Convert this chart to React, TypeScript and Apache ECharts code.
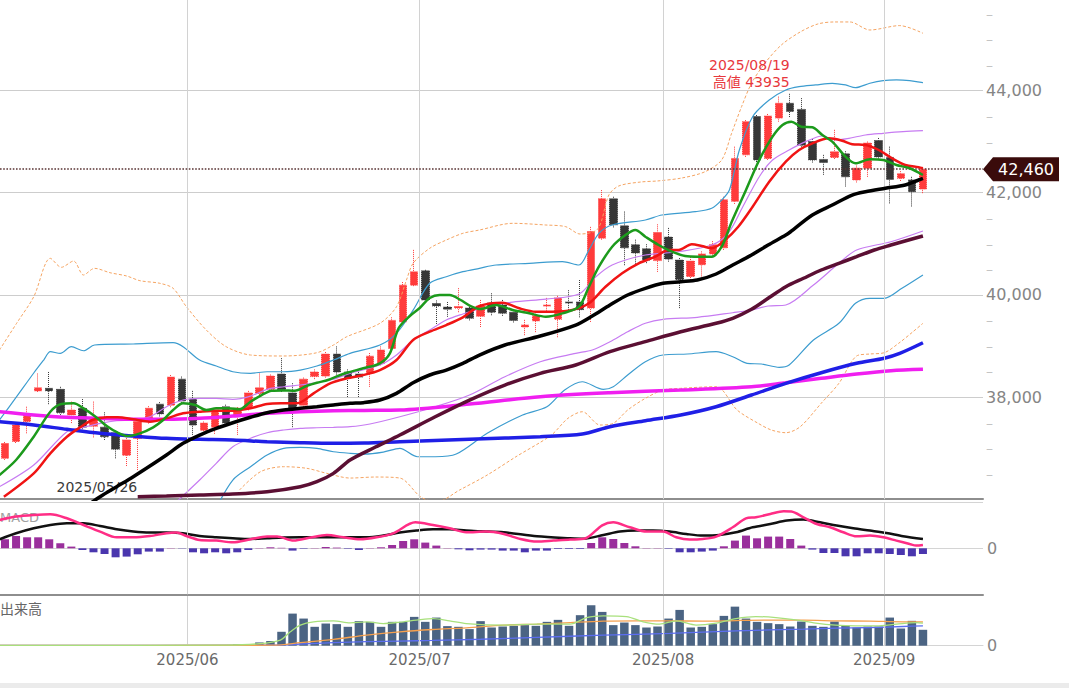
import React, { useEffect, useRef } from "react";
import * as echarts from "echarts";

// ---------- data ----------
const days = [
  "2025/05/08","2025/05/09","2025/05/12","2025/05/13","2025/05/14","2025/05/15","2025/05/16","2025/05/19","2025/05/20","2025/05/21",
  "2025/05/22","2025/05/23","2025/05/26","2025/05/27","2025/05/28","2025/05/29","2025/05/30",
  "2025/06/02","2025/06/03","2025/06/04","2025/06/05","2025/06/06","2025/06/09","2025/06/10","2025/06/11","2025/06/12","2025/06/13",
  "2025/06/16","2025/06/17","2025/06/18","2025/06/19","2025/06/20","2025/06/23","2025/06/24","2025/06/25","2025/06/26","2025/06/27","2025/06/30",
  "2025/07/01","2025/07/02","2025/07/03","2025/07/04","2025/07/07","2025/07/08","2025/07/09","2025/07/10","2025/07/11","2025/07/14",
  "2025/07/15","2025/07/16","2025/07/17","2025/07/18","2025/07/22","2025/07/23","2025/07/24","2025/07/25","2025/07/28","2025/07/29","2025/07/30","2025/07/31",
  "2025/08/01","2025/08/04","2025/08/05","2025/08/06","2025/08/07","2025/08/08","2025/08/12","2025/08/13","2025/08/14","2025/08/15",
  "2025/08/18","2025/08/19","2025/08/20","2025/08/21","2025/08/22","2025/08/25","2025/08/26","2025/08/27","2025/08/28","2025/08/29",
  "2025/09/01","2025/09/02","2025/09/03","2025/09/04",
];

const opens = [
  36800,37130,37520,38120,38170,38150,37650,37780,37430,37410,
  37300,36860,37190,37520,37860,37840,38350,37960,37350,37410,
  37810,37620,37780,38070,38150,38450,38080,37840,38400,38410,
  38840,38490,38450,38470,38660,38950,39470,40190,40470,39830,
  39760,39740,39740,39580,39840,39800,39660,39370,39490,39780,
  39520,39860,39860,39740,41110,41880,41350,40980,40900,40670,
  41130,40680,40360,40590,40800,40920,41830,42740,43490,42670,
  43460,43750,43630,43000,42650,42690,42760,42250,42480,43020,
  42690,42280,42250,42070,
];
const closes = [
  37090,37450,37650,38180,38120,37690,37745,37410,37550,37220,
  36980,37160,37520,37780,37670,38390,37920,37450,37490,37745,
  37490,37780,38080,38180,38410,38140,37780,38350,38490,38840,
  38490,38370,38390,38800,38920,39500,40190,40450,39900,39780,
  39720,39770,39540,39780,39660,39640,39500,39410,39590,39800,
  39940,39840,39710,41240,41880,41370,40920,40820,40680,41220,
  40700,40300,40660,40800,40980,41860,42670,43390,42640,43500,
  43750,43590,42930,42640,42590,42800,42310,42480,42970,42700,
  42260,42370,42020,42460,
];
const lows = [
  36770,37100,37290,38100,37860,37650,37490,37370,37210,37160,
  36800,36650,36570,37480,37620,37800,37880,37260,37290,37280,
  37420,37260,37740,38040,38120,38100,37410,37800,38350,38380,
  38440,38000,38000,38200,38620,38900,39430,40170,39860,39430,
  39570,39660,39500,39370,39600,39590,39460,39210,39270,39650,
  39170,39700,39560,39470,41080,41320,40580,40570,40620,40450,
  40650,39740,40290,40360,40750,40880,41780,42700,42600,42640,
  43390,43480,42900,42590,42350,42660,42120,42200,42310,42650,
  41790,42230,41730,41990,
];
const highs = [
  37120,37480,37810,38460,38490,38200,37910,37960,37910,37700,
  37340,37200,37550,37820,37900,38430,38400,38120,37520,37780,
  37850,37800,38120,38460,38440,38760,38270,38380,38540,38880,
  38990,38540,38530,38860,38990,39560,40250,40880,40490,39890,
  39860,40130,39800,39900,40030,39900,39700,39510,39630,39940,
  39980,40090,40290,41330,42050,41920,41630,41080,40990,41380,
  41310,40720,40740,40850,41050,41920,42900,43420,43520,43540,
  43880,43935,43850,43050,42740,43230,42810,42530,43000,43070,
  42900,42420,42310,42490,
];

// moving averages / bands: [day position, value]
const ma5Line = [
  [-0.5,36473],[1,36767],[2.6,37223],[4.1,37712],[5.1,37863],[6.2,37876],[7.1,37779],[8.1,37628],[9.2,37432],[10.2,37301],
  [11.1,37236],[12.2,37289],[13.4,37407],[14.3,37550],[15.2,37746],[16.1,37877],[17.2,37844],[18.2,37746],[19.1,37779],[20.2,37779],
  [21.2,37759],[22.2,37908],[23.2,38039],[24.1,38123],[25.1,38130],[26.2,38123],[27.3,38220],[28.2,38280],[29.2,38333],[30.1,38411],
  [31,38480],[32.4,38562],[33.9,38660],[34.8,38855],[35.6,39351],[36.6,39586],[37.5,39742],[38.4,39938],[39.3,39997],[40.2,39997],
  [41.2,39899],[42.1,39781],[43,39723],[44.4,39801],[45.9,39703],[47.4,39638],[48.9,39572],[50.4,39638],[51.9,39768],[52.8,40159],
  [53.7,40551],[54.9,40942],[56.1,41171],[57,41269],[57.9,41138],[59.1,40976],[60.3,40845],[61.5,40760],[62.7,40747],[63.9,40747],
  [64.8,40942],[65.7,41426],[67,42052],[68.2,42639],[69.4,43096],[70.3,43325],[71.1,43389],[72,43292],[73,43280],[73.9,43129],
  [74.8,42998],[76,42704],[76.9,42575],[78.2,42653],[79.4,42639],[80.6,42542],[81.8,42477],[83,42346],
];
const ma10Line = [
  [-0.1,36048],[2.6,36506],[4.1,36898],[5.6,37223],[6.8,37407],[7.9,37550],[9.2,37603],[10.2,37603],[11.6,37563],[13.1,37517],
  [14.6,37583],[16.1,37681],[17.6,37712],[19.1,37732],[20.6,37732],[22.2,37779],[23.7,37863],[25,37876],[26.4,37876],[27.9,38072],
  [29.4,38268],[30.9,38366],[32.4,38431],[33.9,38528],[35.4,38724],[36.9,39116],[38.4,39278],[39.9,39409],[41.4,39560],[42.9,39781],
  [45,39846],[46.5,39736],[48,39670],[49.5,39670],[51.3,39703],[52.8,39834],[54.3,40159],[55.8,40422],[57.3,40617],[58.8,40747],
  [60,40878],[60.9,40878],[62.1,40989],[63,40956],[63.9,40911],[65.1,41073],[66.3,41334],[67.6,41725],[69.1,42215],[70.6,42606],
  [71.8,42835],[73,42966],[74.5,43064],[75.7,43017],[76.6,42947],[77.8,42934],[79,42835],[80.2,42673],[81.4,42542],[82.6,42497],[83,42477],
];
const ma25Line = [
  [7.5,35886],[8.6,36048],[10.1,36244],[11.6,36440],[13.1,36649],[14.6,36865],[16.1,37093],[17.6,37256],[19.1,37387],[20.6,37497],
  [22.2,37603],[23.7,37693],[25.2,37745],[26.7,37779],[28.2,37810],[29.7,37844],[31.2,37876],[32.4,37890],[33.9,37941],[35.4,38072],
  [36.9,38280],[38.4,38431],[39.9,38528],[41.4,38659],[42.9,38822],[45.2,39018],[48.4,39194],[51.6,39409],[53.1,39586],[54.7,39801],
  [56.3,39997],[57.9,40128],[59.5,40226],[61.1,40257],[62.6,40290],[64.3,40408],[65.8,40584],[67.5,40780],[69,40976],[70.6,41171],
  [71,41230],[73,41563],[74.8,41758],[76.6,41954],[77.8,42019],[79.6,42085],[81.4,42150],[82.6,42248],[83,42281],
];
const ma75Line = [
  [12,36048],[14.6,36062],[17.6,36081],[20.6,36101],[23.7,36146],[26.7,36244],[28.2,36342],[29.7,36506],[31.2,36767],[33.5,37021],
  [35.7,37256],[38.9,37614],[42,37941],[45.2,38235],[48.4,38464],[51.6,38626],[54.7,38887],[57.9,39083],[61.1,39278],[64.3,39443],
  [65.8,39541],[67.5,39717],[69,39932],[70.6,40159],[72.2,40324],[73.8,40486],[75.4,40617],[77,40747],[78.6,40878],[80.1,40975],
  [81.7,41073],[83,41152],
];
const longMaBlue = [
  [-0.5,37516],[2.6,37452],[5.6,37368],[8.6,37289],[11.6,37236],[14.6,37191],[17.6,37172],[20.6,37158],[23.7,37125],[26.7,37105],
  [29.7,37093],[32.5,37100],[35.7,37125],[42,37172],[48.4,37223],[52.2,37275],[54.7,37419],[57.9,37536],[61.1,37648],[64.3,37810],
  [67.5,38039],[70.6,38268],[73.8,38476],[77,38660],[79.5,38760],[80.9,38855],[83,39063],
];
const longMaMagenta = [
  [-0.5,37712],[2.6,37647],[5.6,37602],[8.6,37583],[11.6,37563],[14.6,37563],[17.6,37583],[20.6,37628],[23.7,37681],[26.7,37712],
  [29.7,37731],[32.5,37738],[35.7,37745],[42,37863],[48.4,38006],[54.7,38084],[61.1,38137],[67.5,38202],[70.6,38280],[73.8,38366],
  [77,38450],[80.1,38515],[83,38542],
];
const bbUpper1 = [
  [-0.5,36244],[2.6,36669],[5.6,37321],[7.1,37407],[8.6,37485],[10.1,37536],[11.6,37550],[13.1,37614],[14.6,37810],[16.1,37941],
  [17.6,37974],[19.1,37974],[20.6,37955],[22.2,38019],[23.7,38151],[25.2,38201],[26.7,38235],[28.2,38280],[29.7,38347],[31.2,38464],
  [33.9,38626],[35.4,38822],[36.9,39116],[38.4,39311],[39.9,39507],[41.4,39625],[42.9,39723],[45.9,39859],[48.9,39918],[51.9,40016],
  [53.4,40349],[54.9,40584],[57.9,40780],[60.9,40844],[63.9,40975],[65.4,41210],[66.7,41719],[68.2,42312],[69.4,42639],[70.9,42835],
  [72.4,42998],[73.9,43109],[75.1,43031],[76.3,43064],[77.8,43129],[79.4,43162],[81.2,43193],[83,43213],
];
const bbLower1 = [
  [15.2,35886],[16,36048],[17.6,36375],[19.1,36702],[20.6,37027],[22.2,37192],[23.7,37301],[25.2,37354],[26.7,37387],[28.2,37399],
  [29.7,37407],[31.2,37419],[33,37472],[35.7,37614],[38.9,37810],[42,38039],[45.2,38398],[48.4,38691],[51.6,38855],[53.1,38920],
  [54.7,39083],[56.3,39278],[57.9,39443],[59.5,39521],[62.6,39560],[65.8,39650],[67.5,39703],[69,39781],[70.6,39801],[73.1,40192],
  [75.4,40617],[77,40878],[80.1,41040],[83,41250],
];
const bbUpper2 = [
  [-0.5,37550],[1.05,38006],[2.6,38470],[3.5,38724],[4.1,38887],[5,38855],[6,38985],[7.1,38906],[8.1,39018],[11.6,39038],
  [15.2,39063],[16.1,38985],[17.6,38724],[19.1,38607],[20.6,38495],[22.2,38464],[23.7,38495],[25.2,38495],[26.7,38528],[28.2,38607],
  [29.7,38724],[31.2,38855],[33.9,39018],[35.4,39247],[36.9,39700],[38.4,40226],[39.9,40355],[41.4,40453],[42.9,40519],[44.4,40584],
  [47.4,40617],[50.4,40649],[51.9,40584],[52.8,40878],[53.7,41204],[54.9,41367],[57.9,41465],[59.4,41563],[62.4,41627],[63.9,41694],
  [64.8,41856],[65.5,42052],[66.4,42835],[67.6,43487],[69.1,43814],[70.6,44010],[71.8,44074],[73.3,44108],[74.8,44141],[76,44108],
  [76.9,44055],[78.2,44141],[79.4,44192],[80.6,44206],[81.8,44192],[83,44153],
];
const bbLower2 = [
  [19.1,35827],[20.6,36375],[22.2,36635],[23.7,36864],[25.2,36996],[26.7,37015],[28.2,36996],[29.7,36929],[31.2,36898],[32.5,36884],
  [34.2,36923],[35.7,36996],[37.3,36831],[38.9,36831],[40.8,36884],[43.6,37289],[46.8,37648],[49,37810],[50.6,38137],[52.2,38299],
  [54.1,38151],[55,38202],[56.3,38431],[57.9,38691],[59.5,38822],[61.7,38842],[64.3,38887],[65.8,38789],[67.1,38659],[68.4,38646],
  [70,38581],[70.9,38626],[73.1,39116],[75.4,39443],[76.9,39834],[78.2,39932],[79.5,39932],[81.1,40128],[83,40388],
];
const bbUpper3 = [
  [-0.5,38920],[1.05,39443],[2.6,39963],[4.1,40715],[5.1,40539],[6.2,40662],[7.1,40388],[8.1,40519],[9.5,40433],[11,40369],
  [12.2,40277],[14,40226],[15.2,40128],[16.4,39768],[18.2,39312],[20,38985],[22.2,38822],[25.2,38803],[28.2,38867],[29.7,39018],
  [30.9,39180],[33.9,39443],[35.4,39768],[36.3,40290],[36.9,40617],[38.4,40911],[39.9,41073],[41.4,41204],[42.9,41269],[45.9,41400],
  [48.9,41367],[50.7,41334],[52,41191],[53.6,41290],[54.6,41954],[55.5,42131],[57.5,42209],[59,42229],[61.2,42287],[63.3,42410],
  [64.8,42639],[65.7,43162],[66.6,43683],[67.5,44141],[68.7,44532],[70.2,44891],[71.9,45145],[73.5,45302],[75,45341],[76.4,45341],
  [78.2,45184],[80.9,45270],[83,45120],
];
const bbLower3 = [
  [21.2,36179],[23.1,36538],[25.2,36636],[27.3,36604],[29.1,36506],[31.2,36414],[33.5,36434],[35.7,36414],[37.6,36042],[39,35944],
  [41.1,36179],[43.6,36473],[46.2,36831],[49.4,37256],[50.9,37583],[52.2,37712],[53.8,37452],[55,37485],[56.3,37745],[57.9,37974],
  [59.5,38137],[61.1,38170],[64.3,38202],[66.2,37745],[68.1,37485],[69.3,37354],[70.6,37301],[71.9,37418],[73.8,37877],[75.4,38268],
  [77,38803],[78.2,38842],[79.5,38867],[80.8,39051],[82.1,39278],[83,39443],
];

// MACD pane
const macdLine = [
  [-0.5,28.3],[1,31.7],[2.6,33.3],[4.1,34],[5.6,30],[7.1,23.3],[8.6,16.7],[10.1,11],[11.6,11],[13.1,12.3],
  [14.6,15],[15.5,15.7],[16.4,12.3],[17.6,8.3],[19.1,7.7],[20.6,6],[22.2,9],[23.7,11.7],[24.6,11.7],[26.1,7.7],
  [27.6,10.7],[29.1,13.3],[30.6,11],[32.1,9],[33.6,11],[35.1,15],[37.1,26],[38.7,23.3],[40.2,20],[41.7,16],
  [43.5,16.7],[45.1,14.3],[46.6,9.3],[48.1,6.7],[49.6,7.7],[51.1,8.7],[52.5,10],[54,23],[55,26],[56.5,21],
  [58,16.7],[59.5,16.7],[60.7,11],[61.9,8.7],[63.1,9.3],[64.3,11.7],[65.8,21],[67,30],[67.9,31],[69.2,34.3],
  [70.4,37],[71.1,36.7],[72.2,31],[73.4,24.3],[74.6,21],[75.8,16],[77,12],[78.2,12.7],[79.4,11],[80.6,7.7],
  [81.8,4.3],[82.4,2.7],[83,3.3],
];
const signalLine = [
  [-0.5,9],[1,15],[2.6,20],[4.1,23.3],[5.6,25],[7.1,25],[8.6,22.3],[10.1,19],[11.6,16.7],[13.1,15.7],
  [14.6,15.7],[16.1,15],[17.6,12.3],[19.1,11],[20.6,10],[22.2,9.3],[23.7,10],[25.2,10.7],[26.7,11],[28.2,11],
  [29.7,11],[31.2,11],[32.7,11],[34.2,12.7],[35.7,15.7],[37.2,17.7],[38.7,19],[40.2,19],[41.7,17.7],[43,17],
  [45.1,16],[48.1,12],[51.1,10],[52.3,9.5],[54.1,13.3],[55.6,16.7],[57.1,17.7],[58.6,17.7],[60.1,16.7],[61.6,14.3],
  [63.1,12.7],[64.6,13.3],[66.1,16],[67.6,21],[69.2,24.3],[70.7,27.7],[72.2,28.7],[73.7,26],[75.2,22.7],[76.7,20],
  [78.2,17.7],[79.7,15.3],[81.2,12],[83,9.3],
];
const macdHist = [
  9,12.3,11,11,9,5,1.7,-1.7,-4,-5.7,
  -9,-8.3,-6,-3.3,-3.3,0.3,-0.3,-4,-5,-4,
  -5,-4,-1.7,0.3,1,0.5,-2.3,-0.5,0.3,1.3,
  0.7,-0.5,-1.7,0.3,1,3.3,7.3,9,5.7,2.7,
  0.3,-1,-2,-1.3,-1.3,-2.3,-2.3,-4,-2.3,-2.3,
  -0.7,-0.7,-0.7,5.3,11,9.3,5.3,2,0.3,0.3,
  -0.5,-4,-4,-3.3,-2.3,2,7.7,12.7,10,11.7,
  11.7,9.3,2.7,-1.3,-4.7,-4.7,-8,-8,-5,-5,
  -5.7,-6.7,-8,-5.7,
];

// volume pane
const volumes = [
  0.3,0.3,0.3,0.3,0.3,0.3,0.3,0.3,0.3,0.3,
  0.3,0.3,0.3,0.3,0.3,0.3,0.3,0.3,0.3,0.5,
  0.6,1.3,1.3,3.3,4.7,14,32.3,27.3,19,22.3,
  21.7,19,24.7,24,19,24,24,29,24,28.3,
  19.7,19,16.7,24.7,18.3,19.3,20,20.7,20,24,
  26,20,30.7,40.7,34,20.7,23.3,20.7,18.3,19.3,
  27.3,36,18.3,19,21.7,30,39.3,27.3,24,22.7,
  21.7,19.3,24.3,20,19,24.3,20,18.3,19.3,19.3,
  28.3,17.3,25,16,
];
const volMaShort = [
  [-0.5,0.3],[20,0.6],[23,2],[24.9,5.7],[25.8,14],[26.7,20.7],[27.9,24],[29.7,25],[31.2,23],[32.7,24],
  [34.2,22.3],[35.7,23.7],[37.2,25.7],[38.7,27.3],[40.2,25],[41.7,22.3],[45.1,20.7],[48.1,21.7],[51.1,21.7],[52.6,28.3],
  [54.1,30],[56.2,29.3],[57.7,24],[59.2,21.7],[60.7,25],[62.5,20.7],[64.3,22.7],[66.1,27.3],[67.9,29.3],[69.7,28.3],
  [71.5,26],[73.3,22.7],[75.1,20.7],[76.9,20],[78.8,20],[80.6,21.7],[82.4,23.3],[83,22.7],
];
const volMaMid = [
  [-0.5,0.3],[24.3,0.5],[26.7,3],[29.7,6.3],[32.7,10.7],[35.7,14],[38.7,16.3],[41.7,18],[45.1,20.7],[48.1,21.7],
  [51.1,23.3],[54.1,24.7],[57.1,25],[60.1,25],[63.1,24.7],[66.1,25.3],[69.2,25.7],[72.2,25.7],[75.2,25],[78.2,24.7],
  [81.2,24],[83,24],
];
const volMaLong = [
  [-0.5,0.3],[24.3,0.5],[26.7,1.7],[29.7,3],[32.7,4],[35.7,4.7],[38.7,5.3],[43,6.5],[48.1,8.3],[54.1,10.7],
  [60.1,12.3],[66.1,15],[72.2,16.7],[75.2,17.7],[78.2,18.3],[81.2,19.3],[83,20],
];

const priceLabelStep = 2000;
const priceMinorStep = 500;

// ---------- component ----------
const FONT = '"DejaVu Sans", "Noto Sans CJK JP", sans-serif';

export default function App() {
  const ref = useRef<HTMLDivElement>(null);

  useEffect(() => {
    document.body.style.margin = "0";
    const el = ref.current as HTMLDivElement;
    const chart = echarts.init(el, null, { renderer: "svg" });

    const X_MIN = -0.452;
    const X_MAX = 88.43;
    const Y_MIN = 36000;
    const Y_MAX = 46000;
    const GRID_RIGHT = 86;

    const candleData = days.map((_, i) => [i, opens[i], closes[i], lows[i], highs[i]]);
    const lastIdx = days.length - 1;
    const lastClose = closes[lastIdx];
    let hiIdx = 0;
    let loIdx = 0;
    highs.forEach((h, i) => { if (h > highs[hiIdx]) hiIdx = i; });
    lows.forEach((l, i) => { if (l < lows[loIdx]) loIdx = i; });

    const monthMarks: { pos: number; label: string }[] = [];
    for (let i = 1; i < days.length; i++) {
      if (days[i].slice(0, 7) !== days[i - 1].slice(0, 7)) {
        monthMarks.push({ pos: i - 0.5, label: days[i].slice(0, 7) });
      }
    }
    const monthLineData = monthMarks.map((m) => ({
      xAxis: m.pos,
      lineStyle: { color: "#d2d2d2", type: "solid", width: 1 },
    }));

    const line = (data: number[][], color: string, width: number, z: number, dashed = false, xi = 0, yi = 0) => ({
      type: "line",
      xAxisIndex: xi,
      yAxisIndex: yi,
      data,
      showSymbol: false,
      symbol: "none",
      smooth: 0.3,
      silent: true,
      z,
      lineStyle: { color, width, type: dashed ? [3, 2] : "solid" },
    });

    const hiddenX = (gridIndex: number, lineColor: string, lineWidth: number) => ({
      type: "value",
      gridIndex,
      min: X_MIN,
      max: X_MAX,
      axisLine: { show: true, onZero: false, lineStyle: { color: lineColor, width: lineWidth } },
      axisTick: { show: false },
      axisLabel: { show: false },
      splitLine: { show: false },
    });

    const gridBase = { left: 0, right: GRID_RIGHT, containLabel: false, outerBoundsMode: "none" };

    const option: any = {
      animation: false,
      backgroundColor: "#ffffff",
      textStyle: { fontFamily: FONT },
      grid: [
        { ...gridBase, top: -11.7, height: 510.9 },
        { ...gridBase, top: 502.3, height: 92 },
        { ...gridBase, top: 596, height: 49.7 },
      ],
      xAxis: [
        hiddenX(0, "#8e8e8e", 2),
        hiddenX(1, "#8e8e8e", 2),
        hiddenX(2, "#d4d4d4", 1),
      ],
      yAxis: [
        {
          type: "value", gridIndex: 0, position: "right", min: Y_MIN, max: Y_MAX, interval: priceLabelStep,
          axisLine: { show: false }, axisTick: { show: false },
          splitLine: { show: true, lineStyle: { color: "#cdcdcd", width: 1 } },
          axisLabel: {
            margin: 3, color: "#858585", fontSize: 16, fontFamily: FONT,
            formatter: (v: number) => (v > Y_MIN && v < Y_MAX ? v.toLocaleString("en-US") : ""),
          },
        },
        {
          type: "value", gridIndex: 0, position: "right", min: Y_MIN, max: Y_MAX, interval: priceMinorStep,
          axisLine: { show: false }, axisTick: { show: false }, splitLine: { show: false },
          axisLabel: {
            margin: 3, color: "#c4c4c4", fontSize: 14, fontFamily: FONT,
            formatter: (v: number) => (v % priceLabelStep === 0 || v >= Y_MAX ? "" : "–"),
          },
        },
        {
          type: "value", gridIndex: 1, position: "right", min: -46, max: 46, interval: 46,
          axisLine: { show: false }, axisTick: { show: false },
          splitLine: { show: true, lineStyle: { color: "#d4d4d4", width: 1 } },
          axisLabel: { margin: 4, color: "#858585", fontSize: 16, fontFamily: FONT, formatter: (v: number) => (v === 0 ? "0" : "") },
        },
        {
          type: "value", gridIndex: 2, position: "right", min: 0, max: 50, interval: 50,
          axisLine: { show: false }, axisTick: { show: false }, splitLine: { show: false },
          axisLabel: { margin: 4, color: "#858585", fontSize: 16, fontFamily: FONT, formatter: (v: number) => (v === 0 ? "0" : "") },
        },
      ],
      series: [
        {
          type: "candlestick",
          xAxisIndex: 0,
          yAxisIndex: 0,
          data: candleData,
          barWidth: 8,
          z: 2,
          silent: true,
          itemStyle: {
            color: "#ff3b3b",
            color0: "#363636",
            borderColor: "#ff3b3b",
            borderColor0: "#363636",
            borderWidth: 1,
            borderType: "dotted",
          },
          markLine: {
            silent: true,
            symbol: ["none", "none"],
            label: { show: false },
            animation: false,
            data: [
              ...monthLineData,
              { yAxis: lastClose, lineStyle: { color: "#5a3434", type: "dotted", width: 1.6 } },
            ],
          },
          markPoint: {
            silent: true,
            animation: false,
            data: [
              {
                coord: [hiIdx, highs[hiIdx]],
                symbol: "rect",
                symbolSize: 1,
                itemStyle: { color: "rgba(0,0,0,0)" },
                label: {
                  show: true,
                  formatter: `${days[hiIdx]}\n高値 ${highs[hiIdx]}`,
                  position: [0, -3],
                  align: "right",
                  verticalAlign: "bottom",
                  color: "#e8383d",
                  fontSize: 14,
                  lineHeight: 17,
                  fontFamily: FONT,
                },
              },
              {
                coord: [loIdx, lows[loIdx]],
                symbol: "rect",
                symbolSize: 1,
                itemStyle: { color: "rgba(0,0,0,0)" },
                label: {
                  show: true,
                  formatter: `${days[loIdx]}`,
                  position: [0, 10],
                  align: "right",
                  verticalAlign: "top",
                  color: "#3a3a3a",
                  fontSize: 14,
                  fontFamily: FONT,
                },
              },
            ],
          },
        },
        line(bbUpper3, "#f5a462", 1, 3, true),
        line(bbLower3, "#f5a462", 1, 3, true),
        line(bbUpper2, "#3c9ccf", 1.2, 3),
        line(bbLower2, "#3c9ccf", 1.2, 3),
        line(bbUpper1, "#c77cf2", 1.2, 3),
        line(bbLower1, "#c77cf2", 1.2, 3),
        line(longMaMagenta, "#f01ff0", 3.5, 4),
        line(longMaBlue, "#1f1fe6", 3.5, 4),
        line(ma75Line, "#5b0f33", 3.5, 5),
        line(ma25Line, "#000000", 3.5, 6),
        line(ma10Line, "#f01414", 2.5, 7),
        line(ma5Line, "#1c9a1c", 2.5, 8),

        {
          type: "bar",
          xAxisIndex: 1,
          yAxisIndex: 2,
          data: macdHist.map((v, i) => [i, v]),
          barWidth: 8,
          silent: true,
          z: 2,
          itemStyle: { color: (p: any) => (p.value[1] >= 0 ? "#9a2f9c" : "#4a36ae") },
          markLine: {
            silent: true,
            symbol: ["none", "none"],
            label: { show: false },
            animation: false,
            data: monthLineData,
          },
        },
        line(signalLine, "#111111", 2.5, 4, false, 1, 2),
        line(macdLine, "#ff2d85", 2.5, 5, false, 1, 2),

        {
          type: "bar",
          xAxisIndex: 2,
          yAxisIndex: 3,
          data: volumes.map((v, i) => [i, v]),
          barWidth: 8.5,
          silent: true,
          z: 2,
          itemStyle: { color: "#4b6483" },
          markLine: {
            silent: true,
            symbol: ["none", "none"],
            label: { show: false },
            animation: false,
            data: monthLineData,
          },
          markPoint: {
            silent: true,
            animation: false,
            data: monthMarks.map((m) => ({
              coord: [m.pos, 0],
              symbol: "rect",
              symbolSize: 1,
              itemStyle: { color: "rgba(0,0,0,0)" },
              label: {
                show: true,
                formatter: m.label,
                position: "bottom",
                distance: 6,
                color: "#6a6a6a",
                fontSize: 15,
                fontFamily: FONT,
              },
            })),
          },
        },
        line(volMaLong, "#5b6df0", 1.3, 4, false, 2, 3),
        line(volMaMid, "#f5a04e", 1.3, 5, false, 2, 3),
        line(volMaShort, "#a8e07c", 1.3, 6, false, 2, 3),
      ],
    };

    chart.setOption(option);

    const yTag = chart.convertToPixel({ yAxisIndex: 0 } as any, lastClose) as number;
    const xTag = chart.convertToPixel({ xAxisIndex: 0 } as any, X_MAX) as number;

    chart.setOption({
      graphic: [
        {
          type: "text", x: 0, y: 511, z: 1,
          style: { text: "MACD", fill: "#a0a0a0", font: `13px ${FONT}` },
        },
        {
          type: "text", x: 0, y: 602, z: 50,
          style: { text: "出来高", fill: "#666666", font: `14px ${FONT}` },
        },
        {
          type: "rect", z: 50,
          shape: { x: 0, y: 683, width: 1069, height: 5 },
          style: { fill: "#ebebeb" },
        },
        {
          type: "polygon", z: 100,
          shape: {
            points: [
              [xTag, yTag], [xTag + 10, yTag - 12], [xTag + 76, yTag - 12],
              [xTag + 76, yTag + 12], [xTag + 10, yTag + 12],
            ],
          },
          style: { fill: "#3a0b0b" },
        },
        {
          type: "text", x: xTag + 43, y: yTag, z: 101,
          style: {
            text: lastClose.toLocaleString("en-US"),
            fill: "#ffffff",
            font: `16px ${FONT}`,
            align: "center",
            verticalAlign: "middle",
          },
        },
      ],
    });

    return () => chart.dispose();
  }, []);

  return (
    <div
      ref={ref}
      style={{ position: "absolute", left: 0, top: 0, width: 1069, height: 688, background: "#ffffff" }}
    />
  );
}
